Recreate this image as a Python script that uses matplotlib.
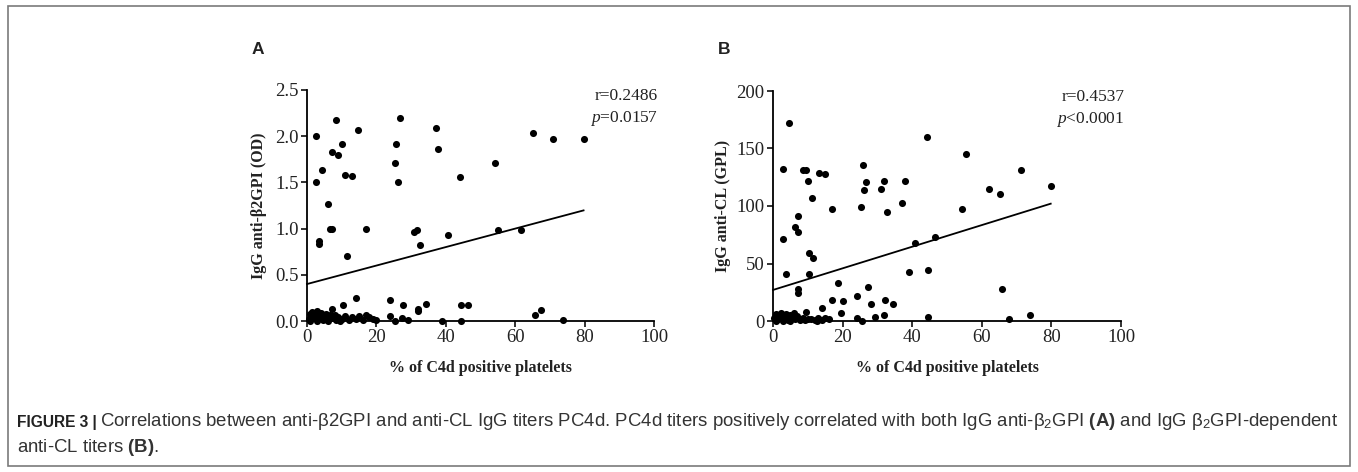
import numpy as np
import matplotlib
matplotlib.use("Agg")
import matplotlib.pyplot as plt
from matplotlib.patches import Rectangle

plt.rcParams['font.family'] = ['Liberation Serif', 'DejaVu Serif']
plt.rcParams['mathtext.fontset'] = 'custom'
plt.rcParams['mathtext.rm'] = 'Liberation Sans'
plt.rcParams['mathtext.bf'] = 'Liberation Sans:bold'
plt.rcParams['mathtext.it'] = 'Liberation Serif:italic'

# ---- panel A: % C4d positive platelets vs IgG anti-b2GPI (OD) ----
a_x = [2.6, 2.6, 8.3, 7.1, 10.0, 9.0, 4.3, 10.9, 13.1, 14.6, 6.1, 6.6, 7.3, 3.5, 3.5,
       16.9, 11.4, 25.6, 26.8, 25.3, 26.1, 37.1, 37.8, 30.9, 31.8, 32.5, 40.7, 44.0,
       54.1, 55.1, 61.8, 65.1, 70.9, 79.7,
       14.1, 23.9, 10.3, 27.7, 31.9, 32.0, 34.2, 44.3, 46.4, 65.6, 67.5, 73.8, 39.0,
       44.5, 23.9, 25.3, 27.5, 29.2, 7.1,
       0.5, 0.8, 1.2, 1.5, 2.0, 2.3, 2.8, 3.2, 3.6, 4.0, 4.5, 5.0, 5.5, 6.0, 6.5,
       7.5, 8.0, 8.5, 9.0, 10.0, 11.0, 12.0, 13.0, 14.0, 15.0, 16.0, 17.0, 18.0,
       19.0, 20.0, 1.0, 3.0, 6.0, 9.5]
a_y = [2.00, 1.50, 2.18, 1.83, 1.92, 1.80, 1.63, 1.58, 1.57, 2.07, 1.27, 1.00, 1.00,
       0.87, 0.83, 1.00, 0.70, 1.92, 2.20, 1.71, 1.50, 2.09, 1.86, 0.96, 0.99, 0.82,
       0.93, 1.56, 1.71, 0.99, 0.99, 2.03, 1.97, 1.97,
       0.25, 0.23, 0.17, 0.17, 0.13, 0.11, 0.18, 0.17, 0.17, 0.07, 0.12, 0.01, 0.0,
       0.0, 0.05, 0.0, 0.03, 0.01, 0.13,
       0.02, 0.08, 0.05, 0.10, 0.03, 0.07, 0.11, 0.02, 0.06, 0.09, 0.01, 0.04, 0.08,
       0.02, 0.06, 0.03, 0.07, 0.01, 0.04, 0.02, 0.05, 0.01, 0.04, 0.02, 0.05, 0.01,
       0.06, 0.04, 0.02, 0.01, 0.0, 0.0, 0.0, 0.0]
a_fit = (0.40, 0.0100)   # intercept, slope
a_stats = ("r=0.2486", "=0.0157")

# ---- panel B: % C4d positive platelets vs IgG anti-CL (GPL) ----
b_x = [4.5, 2.9, 8.7, 9.5, 10.1, 11.1, 13.2, 14.9, 17.0, 7.1, 6.4, 7.1, 2.8, 3.7,
       10.4, 11.6, 10.4, 7.1, 7.3, 25.8, 26.7, 26.2, 25.3, 31.0, 31.9, 32.8, 37.9,
       37.2, 40.8, 39.1, 44.3, 44.5, 46.6, 55.4, 54.2, 62.0, 65.1, 71.2, 79.8, 65.7,
       73.9, 67.8, 44.6,
       18.8, 16.9, 20.2, 14.2, 9.5, 19.5, 24.2, 27.4, 28.1, 32.2, 34.4, 29.3, 31.9,
       24.0, 25.5,
       0.4, 0.9, 1.3, 1.8, 2.2, 2.7, 3.1, 3.6, 4.2, 4.8, 5.3, 5.9, 6.4, 7.0, 7.8,
       8.5, 9.2, 10.0, 11.0, 12.0, 13.0, 14.0, 15.0, 16.0, 1.0, 3.0, 5.0, 12.5]
b_y = [171.9, 131.9, 131.0, 131.0, 122.0, 106.7, 129.0, 127.8, 97.7, 91.6, 82.0, 77.0,
       71.3, 40.6, 58.9, 54.5, 40.9, 27.6, 24.6, 135.7, 121.2, 113.9, 98.8, 114.8,
       122.0, 94.8, 122.0, 102.9, 67.5, 42.3, 160.0, 44.3, 72.8, 145.0, 97.7, 114.8,
       110.4, 131.0, 117.7, 27.6, 5.5, 2.0, 3.5,
       32.8, 18.3, 17.4, 11.6, 8.1, 7.2, 21.7, 29.3, 14.5, 18.3, 14.5, 3.8, 5.2,
       2.3, 0.0,
       3.0, 6.5, 1.5, 5.0, 7.0, 2.5, 4.5, 6.0, 1.0, 5.5, 3.5, 7.0, 2.0, 4.0, 1.0,
       3.0, 0.5, 2.0, 1.5, 0.5, 2.5, 1.0, 3.0, 1.5, 0.0, 0.0, 0.0, 0.0]
b_fit = (27.0, 0.94)
b_stats = ("r=0.4537", "<0.0001")

x_ticks = [0, 20, 40, 60, 80, 100]
x_label = "% of C4d positive platelets"

fig = plt.figure(figsize=(13.58, 4.72), dpi=100)
W, H = 1358, 472


def panel(rect, xs, ys, fit, stats, ylim, yticks, yfmt, ylabel, letter, letter_xy, ylabel_x):
    ax = fig.add_axes(rect)
    ax.scatter(xs, ys, s=26, color='black', linewidths=0, clip_on=False, zorder=3)
    fx = np.array([0, max(xs)])
    ax.plot(fx, fit[0] + fit[1] * fx, color='black', lw=1.3, clip_on=False)
    ax.set_xlim(0, 100)
    ax.set_ylim(*ylim)
    ax.set_xticks(x_ticks)
    ax.set_yticks(yticks)
    ax.set_yticklabels([yfmt.format(v) for v in yticks])
    for s in ('top', 'right'):
        ax.spines[s].set_visible(False)
    for s in ('left', 'bottom'):
        ax.spines[s].set_linewidth(1.3)
    ax.tick_params(direction='out', length=4, width=1.3, labelsize=13.5, pad=2, colors='#222222')
    ax.set_xlabel(x_label, fontsize=11.5, fontweight='bold', labelpad=10, color='#222222')
    ax.set_ylabel(ylabel, fontsize=11.5, fontweight='bold', color='#222222')
    ax.yaxis.set_label_coords((ylabel_x - rect[0] * W) / (rect[2] * W), 0.5)
    ax.text(1.01, 0.975, stats[0], transform=ax.transAxes, ha='right', va='center',
            fontsize=12.5, color='#222222')
    ax.text(1.01, 0.875, r"$\mathit{p}$" + stats[1], transform=ax.transAxes, ha='right',
            va='center', fontsize=12.5, color='#222222')
    fig.text(letter_xy[0] / W, 1 - letter_xy[1] / H, letter, family='Liberation Sans',
             fontsize=12.5, fontweight='bold', ha='center', va='center', color='#222222')
    return ax


panel([307 / W, 151 / H, 347 / W, 231 / H], a_x, a_y, a_fit, a_stats, (0, 2.5),
      [0, 0.5, 1.0, 1.5, 2.0, 2.5], "{:.1f}", "IgG anti-β2GPI (OD)", "A", (258, 49), 267)
panel([773 / W, 151 / H, 348 / W, 230 / H], b_x, b_y, b_fit, b_stats, (0, 200),
      [0, 50, 100, 150, 200], "{:.0f}", "IgG anti-CL (GPL)", "B", (724, 49), 731)

# frame around the figure and caption
fig.patches.append(Rectangle((8 / W, 6 / H), 1342 / W, 460 / H, transform=fig.transFigure,
                             fill=False, edgecolor='#7a7a7a', lw=1.2))

cap_head = "FIGURE 3 |"
cap1 = (r"Correlations between anti-β2GPI and anti-CL IgG titers PC4d. "
        r"PC4d titers positively correlated with both IgG anti-β$_2$GPI $\mathbf{(A)}$ "
        r"and IgG β$_2$GPI-dependent")
cap2 = r"anti-CL titers $\mathbf{(B)}$."
fig.text(17 / W, 1 - 422 / H, cap_head, family='Liberation Sans', fontsize=11.2,
         fontweight='bold', va='center', color='#222222')
fig.text(100 / W, 1 - 422 / H, cap1, family='Liberation Sans', fontsize=13.4,
         va='center', color='#333333')
fig.text(17 / W, 1 - 448 / H, cap2, family='Liberation Sans', fontsize=13.4,
         va='center', color='#333333')

fig.savefig("out.png", dpi=100)
